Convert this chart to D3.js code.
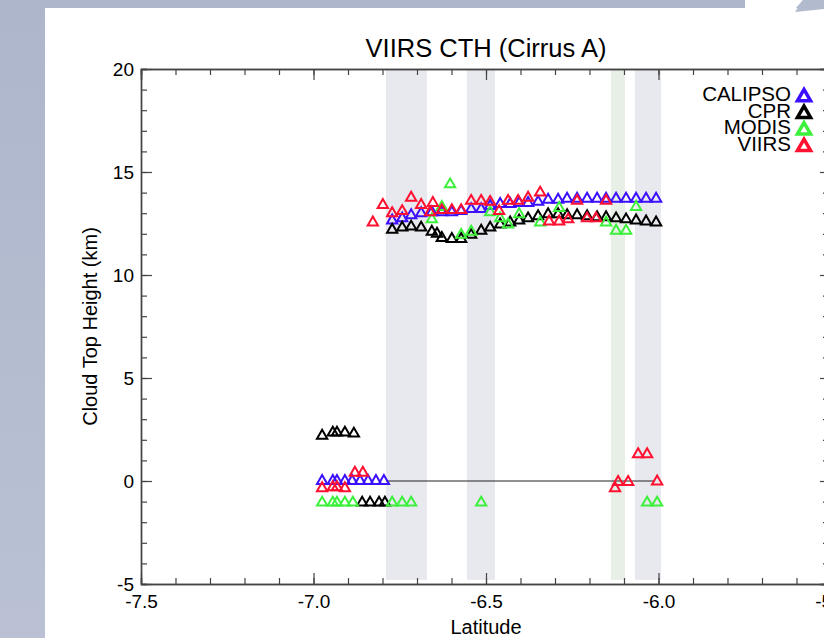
<!DOCTYPE html>
<html>
<head>
<meta charset="utf-8">
<script src="https://cdn.jsdelivr.net/npm/d3@7"></script>
<style>
  body { margin: 0; background: #fff; }
  text { font-family: "Liberation Sans", Arial, Helvetica, sans-serif; fill: #000; }
</style>
</head>
<body>
<div id="chart"></div>
<script>
const MARGIN = { LEFT: 141, TOP: 69 }
const WIDTH = 690
const HEIGHT = 515

// series: latitude and cloud top height (km)
const calipsoLat = [-6.975, -6.944, -6.932, -6.909, -6.888, -6.865, -6.842, -6.819, -6.796,
  -6.772, -6.743, -6.717, -6.688, -6.657, -6.628, -6.599, -6.572, -6.543, -6.514, -6.488,
  -6.459, -6.430, -6.404, -6.378, -6.349, -6.320, -6.291, -6.265, -6.236, -6.207, -6.178,
  -6.152, -6.123, -6.094, -6.065, -6.036, -6.007]
const calipsoCth = [0, 0, 0, 0, 0, 0, 0, 0, 0,
  12.65, 12.75, 12.9, 13.0, 13.05, 13.05, 13.05, 13.1, 13.2, 13.2, 13.35,
  13.45, 13.45, 13.5, 13.5, 13.55, 13.65, 13.65, 13.7, 13.7, 13.7, 13.7,
  13.7, 13.7, 13.7, 13.7, 13.7, 13.7]

const cprLat = [-6.975, -6.944, -6.932, -6.909, -6.883, -6.859, -6.836, -6.810, -6.793,
  -6.772, -6.743, -6.717, -6.688, -6.657, -6.642, -6.628, -6.599, -6.572, -6.543, -6.514,
  -6.488, -6.459, -6.430, -6.404, -6.378, -6.349, -6.320, -6.291, -6.265, -6.236, -6.207,
  -6.178, -6.152, -6.123, -6.094, -6.065, -6.036, -6.007]
const cprCth = [2.2, 2.35, 2.35, 2.35, 2.3, -1.05, -1.05, -1.05, -1.05,
  12.2, 12.3, 12.35, 12.3, 12.1, 12.0, 11.8, 11.75, 11.75, 11.95, 12.15,
  12.3, 12.45, 12.55, 12.65, 12.75, 12.85, 12.95, 12.95, 12.9, 12.9, 12.85,
  12.8, 12.8, 12.75, 12.7, 12.65, 12.6, 12.55]

const modisLat = [-6.975, -6.944, -6.932, -6.909, -6.886, -6.772, -6.743, -6.717, -6.514,
  -6.033, -6.004,
  -6.657, -6.628, -6.604, -6.572, -6.543, -6.488, -6.459, -6.436, -6.404, -6.343,
  -6.288, -6.152, -6.123, -6.094, -6.065]
const modisCth = [-1.05, -1.05, -1.05, -1.05, -1.05, -1.05, -1.05, -1.05, -1.05,
  -1.05, -1.05,
  12.7, 13.3, 14.4, 11.95, 12.1, 13.05, 12.75, 12.45, 12.95, 12.55,
  13.25, 12.55, 12.15, 12.15, 13.3]

const viirsLat = [-6.975, -6.944, -6.932, -6.909, -6.880, -6.857,
  -6.126, -6.117, -6.088, -6.059, -6.033, -6.004,
  -6.828, -6.799, -6.772, -6.743, -6.717, -6.688, -6.662, -6.654, -6.628, -6.599,
  -6.572, -6.543, -6.514, -6.488, -6.462, -6.436, -6.407, -6.378, -6.343, -6.317,
  -6.288, -6.262, -6.236, -6.207, -6.181, -6.152]
const viirsCth = [-0.35, -0.3, -0.3, -0.35, 0.4, 0.4,
  -0.35, -0.05, -0.05, 1.3, 1.3, -0.02,
  12.55, 13.4, 13.0, 13.1, 13.75, 13.4, 13.05, 13.5, 13.15, 13.15,
  13.15, 13.6, 13.6, 13.55, 13.1, 13.6, 13.6, 13.75, 14.0, 12.6,
  12.6, 12.7, 13.6, 12.75, 12.75, 13.6]

const seriesNames = ["CALIPSO", "CPR", "MODIS", "VIIRS"]
const seriesColors = ["#3c10ff", "#000000", "#3cf03c", "#ff1030"]

// shaded latitude bands
const greyBands = [[-6.790, -6.671], [-6.555, -6.474], [-6.068, -5.993]]
const greenBands = [[-6.138, -6.097]]

const xMajor = [-7.5, -7.0, -6.5, -6.0, -5.5]
const yMajor = [-5, 0, 5, 10, 15, 20]
const zeroLine = [-6.79, -6.01]

const svg = d3.select("#chart").append("svg")
  .attr("width", 824)
  .attr("height", 638)

// slide background
const grad = svg.append("defs").append("linearGradient")
  .attr("id", "bg").attr("x1", 0).attr("y1", 0).attr("x2", 0).attr("y2", 1)
grad.append("stop").attr("offset", "0%").attr("stop-color", "#aeb6cc")
grad.append("stop").attr("offset", "100%").attr("stop-color", "#bac1d4")

svg.append("rect").attr("width", 824).attr("height", 638).attr("fill", "url(#bg)")
svg.append("rect").attr("x", 45).attr("y", 8).attr("width", 779).attr("height", 630).attr("fill", "white")
svg.append("polygon").attr("points", "745,0 803,0 796,8 745,8").attr("fill", "white")
svg.append("polygon").attr("points", "803,0 824,0 824,9 795,12").attr("fill", "#b2bace")

const x = d3.scaleLinear().domain([-7.5, -5.5]).range([0, WIDTH])
const y = d3.scaleLinear().domain([-5, 20]).range([HEIGHT, 0])

const g = svg.append("g")
  .attr("transform", `translate(${MARGIN.LEFT}, ${MARGIN.TOP})`)

g.selectAll(".greyband").data(greyBands).enter().append("rect")
  .attr("x", d => x(d[0]))
  .attr("width", d => x(d[1]) - x(d[0]))
  .attr("y", y(20))
  .attr("height", y(-4.8) - y(20))
  .attr("fill", "#e8e8ef")

g.selectAll(".greenband").data(greenBands).enter().append("rect")
  .attr("x", d => x(d[0]))
  .attr("width", d => x(d[1]) - x(d[0]))
  .attr("y", y(20))
  .attr("height", y(-4.8) - y(20))
  .attr("fill", "#e7efe6")

g.append("line")
  .attr("x1", x(zeroLine[0])).attr("x2", x(zeroLine[1]))
  .attr("y1", y(0)).attr("y2", y(0))
  .attr("stroke", "#222").attr("stroke-width", 1)

// axes, ticks pointing inwards
const xMinor = d3.range(-7.5, -5.45, 0.1).map(v => +v.toFixed(1))
const yMinor = d3.range(-5, 20.5, 1)

function styleAxis(sel) {
  sel.selectAll("path").attr("stroke", "#444").attr("stroke-width", 1.4)
  sel.selectAll("line").attr("stroke", "#444").attr("stroke-width", 1.2)
  sel.selectAll("text").style("font-family", "'Liberation Sans', Arial, sans-serif").style("font-size", "19px").attr("fill", "#000")
}

g.append("g").attr("transform", `translate(0, ${HEIGHT})`)
  .call(d3.axisBottom(x).tickValues(xMinor).tickSize(-6).tickFormat(""))
  .call(styleAxis)
g.append("g").attr("transform", `translate(0, ${HEIGHT})`)
  .call(d3.axisBottom(x).tickValues(xMajor).tickSizeInner(-11).tickSizeOuter(0).tickPadding(11).tickFormat(d3.format(".1f")))
  .call(styleAxis)
  .call(a => a.selectAll("text").text(d => d3.format(".1f")(d).replace("−", "-")))

g.append("g")
  .call(d3.axisTop(x).tickValues(xMinor).tickSize(-6).tickFormat(""))
  .call(styleAxis)
g.append("g")
  .call(d3.axisTop(x).tickValues(xMajor).tickSize(-11).tickFormat(""))
  .call(styleAxis)

g.append("g")
  .call(d3.axisLeft(y).tickValues(yMinor).tickSize(-6).tickFormat(""))
  .call(styleAxis)
g.append("g")
  .call(d3.axisLeft(y).tickValues(yMajor).tickSizeInner(-11).tickSizeOuter(0).tickPadding(7))
  .call(styleAxis)
  .call(a => a.selectAll("text").text(d => String(d)))

g.append("g").attr("transform", `translate(${WIDTH}, 0)`)
  .call(d3.axisRight(y).tickValues(yMinor).tickSize(-8).tickFormat(""))
  .call(styleAxis)
g.append("g").attr("transform", `translate(${WIDTH}, 0)`)
  .call(d3.axisRight(y).tickValues(yMajor).tickSize(-11).tickFormat(""))
  .call(styleAxis)

// titles
svg.append("text")
  .attr("x", MARGIN.LEFT + WIDTH / 2)
  .attr("y", 57)
  .attr("text-anchor", "middle")
  .style("font-size", "25.5px")
  .text("VIIRS CTH (Cirrus A)")

svg.append("text")
  .attr("x", MARGIN.LEFT + WIDTH / 2)
  .attr("y", 634)
  .attr("text-anchor", "middle")
  .style("font-size", "20px")
  .text("Latitude")

svg.append("text")
  .attr("transform", `translate(97, ${MARGIN.TOP + HEIGHT / 2}) rotate(-90)`)
  .attr("text-anchor", "middle")
  .style("font-size", "20px")
  .text("Cloud Top Height (km)")

// points
const allSeries = [
  { lat: calipsoLat, cth: calipsoCth },
  { lat: cprLat, cth: cprCth },
  { lat: modisLat, cth: modisCth },
  { lat: viirsLat, cth: viirsCth }
]

const tri = d3.symbol().type(d3.symbolTriangle).size(46)

allSeries.forEach(function(s, i) {
  const pts = s.lat.map((d, j) => ({ lat: d, cth: s.cth[j] }))
  g.append("g").selectAll("path")
    .data(pts)
    .enter()
    .append("path")
    .attr("d", tri)
    .attr("transform", d => `translate(${x(d.lat)}, ${y(d.cth)})`)
    .attr("fill", "none")
    .attr("stroke", seriesColors[i])
    .attr("stroke-width", 2)
})

// legend
const legend = svg.append("g")
const legendTri = d3.symbol().type(d3.symbolTriangle).size(75)
seriesNames.forEach(function(name, i) {
  legend.append("text")
    .attr("x", 791)
    .attr("y", 101 + i * 16.6)
    .attr("text-anchor", "end")
    .style("font-size", "20.5px")
    .text(name)
  legend.append("path")
    .attr("d", legendTri)
    .attr("transform", `translate(804, ${97 + i * 16.6})`)
    .attr("fill", "none")
    .attr("stroke", seriesColors[i])
    .attr("stroke-width", 3.5)
})
</script>
</body>
</html>
